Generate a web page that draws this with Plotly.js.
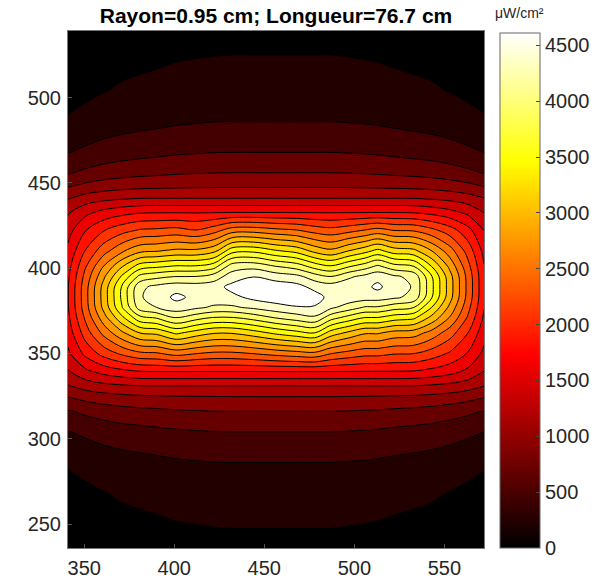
<!DOCTYPE html>
<html><head><meta charset="utf-8">
<script src="https://cdn.plot.ly/plotly-3.0.1.min.js"></script>
<style>html,body{margin:0;padding:0;background:#fff}</style>
</head><body><div id="chart" style="width:610px;height:584px"></div>
<script>
// grid positions (x across, y up)
const xPositions = [341, 351, 361, 371, 381, 390, 401, 412, 422, 432, 444, 456, 468, 478, 487, 497, 506, 513, 522, 533, 543, 553, 563, 572];
const yPositions = [236, 268, 286, 304, 316, 324, 331, 339, 350, 362, 371, 377, 383, 389, 395, 401, 410, 422, 433, 441, 448, 456, 468, 486, 504, 539];
// irradiance (µW/cm²), one row per y position
const irradiance = [
  [75, 94, 113, 127, 137, 144, 156, 162, 167, 170, 170, 170, 170, 170, 170, 165, 160, 156, 146, 137, 127, 113, 94, 78],
  [150, 182, 214, 239, 254, 267, 286, 297, 305, 310, 310, 310, 310, 310, 310, 302, 294, 286, 270, 254, 239, 214, 182, 155],
  [239, 281, 321, 351, 371, 388, 411, 425, 436, 438, 438, 438, 438, 438, 438, 430, 421, 411, 392, 371, 351, 321, 281, 245],
  [429, 482, 529, 563, 585, 605, 629, 644, 654, 658, 658, 658, 658, 658, 658, 650, 640, 629, 609, 585, 563, 529, 482, 437],
  [639, 704, 756, 792, 816, 832, 854, 866, 875, 878, 878, 878, 878, 878, 878, 871, 862, 854, 836, 816, 792, 756, 704, 648],
  [863, 941, 991, 1023, 1044, 1052, 1063, 1069, 1073, 1076, 1076, 1076, 1076, 1076, 1076, 1072, 1067, 1063, 1054, 1044, 1023, 991, 941, 873],
  [1086, 1195, 1255, 1291, 1314, 1318, 1318, 1318, 1318, 1318, 1318, 1318, 1318, 1318, 1318, 1318, 1318, 1318, 1318, 1314, 1291, 1255, 1195, 1103],
  [1286, 1477, 1597, 1674, 1725, 1733, 1733, 1733, 1733, 1733, 1733, 1733, 1733, 1733, 1733, 1733, 1733, 1733, 1733, 1725, 1674, 1597, 1477, 1309],
  [1496, 1826, 2068, 2244, 2371, 2392, 2497, 2427, 2374, 2374, 2427, 2497, 2550, 2585, 2427, 2340, 2270, 2270, 2217, 2203, 2097, 1952, 1744, 1484],
  [1635, 2097, 2490, 2816, 3081, 3128, 3339, 3199, 3093, 3093, 3199, 3339, 3444, 3514, 3199, 3023, 2883, 2883, 2778, 2745, 2552, 2302, 1981, 1622],
  [1709, 2259, 2776, 3251, 3679, 3759, 3970, 3830, 3724, 3724, 3830, 3970, 4075, 4145, 3830, 3654, 3514, 3514, 3409, 3348, 3016, 2625, 2175, 1723],
  [1743, 2341, 2932, 3510, 4069, 4178, 4312, 4224, 4145, 4145, 4224, 4312, 4378, 4379, 4224, 4075, 3935, 3935, 3830, 3745, 3295, 2803, 2274, 1771],
  [1750, 2358, 2965, 3567, 4158, 4275, 4450, 4345, 4310, 4337, 4463, 4526, 4573, 4499, 4325, 4320, 4290, 4290, 4224, 4110, 3536, 2947, 2348, 1806],
  [1748, 2352, 2953, 3547, 4126, 4240, 4312, 4290, 4305, 4469, 4589, 4526, 4478, 4331, 4290, 4325, 4348, 4448, 4280, 4162, 3569, 2966, 2358, 1810],
  [1721, 2289, 2831, 3340, 3811, 3900, 3970, 3970, 4075, 4284, 4395, 4312, 4246, 4075, 3970, 4145, 4250, 4334, 4224, 4110, 3536, 2947, 2348, 1806],
  [1680, 2194, 2657, 3064, 3415, 3479, 3549, 3549, 3654, 4075, 4110, 3970, 3865, 3654, 3549, 3724, 3865, 4005, 3830, 3745, 3295, 2803, 2274, 1771],
  [1591, 2006, 2342, 2607, 2813, 2848, 2918, 2918, 3023, 3444, 3479, 3339, 3234, 3023, 2918, 3093, 3234, 3374, 3199, 3149, 2867, 2525, 2118, 1694],
  [1460, 1761, 1976, 2127, 2234, 2252, 2287, 2217, 2340, 2550, 2567, 2497, 2444, 2340, 2287, 2360, 2445, 2515, 2427, 2405, 2272, 2090, 1841, 1542],
  [1286, 1477, 1597, 1674, 1725, 1733, 1733, 1733, 1733, 1733, 1733, 1733, 1733, 1733, 1733, 1733, 1733, 1733, 1733, 1725, 1674, 1597, 1477, 1309],
  [1086, 1195, 1255, 1291, 1314, 1318, 1318, 1318, 1318, 1318, 1318, 1318, 1318, 1318, 1318, 1318, 1318, 1318, 1318, 1314, 1291, 1255, 1195, 1103],
  [863, 941, 991, 1023, 1044, 1052, 1063, 1069, 1073, 1076, 1076, 1076, 1076, 1076, 1076, 1072, 1067, 1063, 1054, 1044, 1023, 991, 941, 873],
  [639, 704, 756, 792, 816, 832, 854, 866, 875, 878, 878, 878, 878, 878, 878, 871, 862, 854, 836, 816, 792, 756, 704, 648],
  [429, 482, 529, 563, 585, 605, 629, 644, 654, 658, 658, 658, 658, 658, 658, 650, 640, 629, 609, 585, 563, 529, 482, 437],
  [239, 281, 321, 351, 371, 388, 411, 425, 436, 438, 438, 438, 438, 438, 438, 430, 421, 411, 392, 371, 351, 321, 281, 245],
  [150, 182, 214, 239, 254, 267, 286, 297, 305, 310, 310, 310, 310, 310, 310, 302, 294, 286, 270, 254, 239, 214, 182, 155],
  [70, 88, 106, 120, 129, 136, 147, 153, 157, 160, 160, 160, 160, 160, 160, 156, 151, 147, 138, 129, 120, 106, 88, 73]
];
const contourLevels = {start: 220, end: 4400, size: 220};
const colorRange = [0, 4610];
const colorbarTicks = [0, 500, 1000, 1500, 2000, 2500, 3000, 3500, 4000, 4500];
const xTicks = [350, 400, 450, 500, 550];
const yTicks = [250, 300, 350, 400, 450, 500];
const chartTitle = 'Rayon=0.95 cm; Longueur=76.7 cm';
const unitLabel = 'μW/cm²';

const hot = [[0, 'rgb(0,0,0)'], [0.375, 'rgb(255,0,0)'], [0.75, 'rgb(255,255,0)'], [1, 'rgb(255,255,255)']];
const font = 'Arial, "Liberation Sans", Helvetica, sans-serif';
const axisColor = '#262626';

const colorbarCarrier = {
  type: 'heatmap', x: xPositions, y: yPositions, z: irradiance,
  zmin: colorRange[0], zmax: colorRange[1], colorscale: hot, hoverinfo: 'skip',
  colorbar: {
    x: 1.0385, xanchor: 'left', xpad: 0, y: 0, yanchor: 'bottom', ypad: 0,
    len: 0.996, lenmode: 'fraction', thickness: 40, thicknessmode: 'pixels',
    outlinewidth: 1, outlinecolor: '#666',
    tickmode: 'array', tickvals: colorbarTicks, ticks: 'inside', ticklen: 4, tickcolor: '#444',
    ticklabelstandoff: 2,
    tickfont: {family: font, size: 20, color: axisColor}
  }
};
const field = {
  type: 'contour', x: xPositions, y: yPositions, z: irradiance,
  autocontour: false, contours: {start: contourLevels.start, end: contourLevels.end, size: contourLevels.size, coloring: 'fill'},
  colorscale: hot, showscale: false,
  line: {color: '#000', width: 1, smoothing: 1},
  hoverinfo: 'skip'
};

const layout = {
  width: 610, height: 584,
  margin: {l: 68, r: 126, t: 31, b: 36},
  paper_bgcolor: '#fff', plot_bgcolor: '#fff',
  font: {family: font, size: 20, color: axisColor},
  title: {text: '<b>' + chartTitle + '</b>', font: {family: font, size: 21, color: '#000'},
          x: 0.5, xref: 'paper', xanchor: 'center', y: 0.974, yref: 'container', yanchor: 'middle'},
  xaxis: {range: [xPositions[0], xPositions[xPositions.length - 1]], tickmode: 'array', tickvals: xTicks,
          ticks: 'inside', ticklen: 4, tickcolor: '#555', showline: true, linecolor: '#777', linewidth: 1, mirror: true,
          showgrid: false, zeroline: false, ticklabelstandoff: 2,
          tickfont: {family: font, size: 20, color: axisColor}},
  yaxis: {range: [yPositions[0], yPositions[yPositions.length - 1]], tickmode: 'array', tickvals: yTicks,
          ticks: 'inside', ticklen: 4, tickcolor: '#555', showline: true, linecolor: '#777', linewidth: 1, mirror: true,
          showgrid: false, zeroline: false, ticklabelstandoff: 2,
          tickfont: {family: font, size: 20, color: axisColor}},
  annotations: [{text: unitLabel, xref: 'paper', yref: 'paper', x: 1.0865, y: 1.0, yshift: 8,
                 xanchor: 'center', yanchor: 'bottom', showarrow: false,
                 font: {family: font, size: 14, color: axisColor}}]
};

Plotly.newPlot('chart', [colorbarCarrier, field], layout, {displayModeBar: false, staticPlot: true});
</script>
</body></html>
